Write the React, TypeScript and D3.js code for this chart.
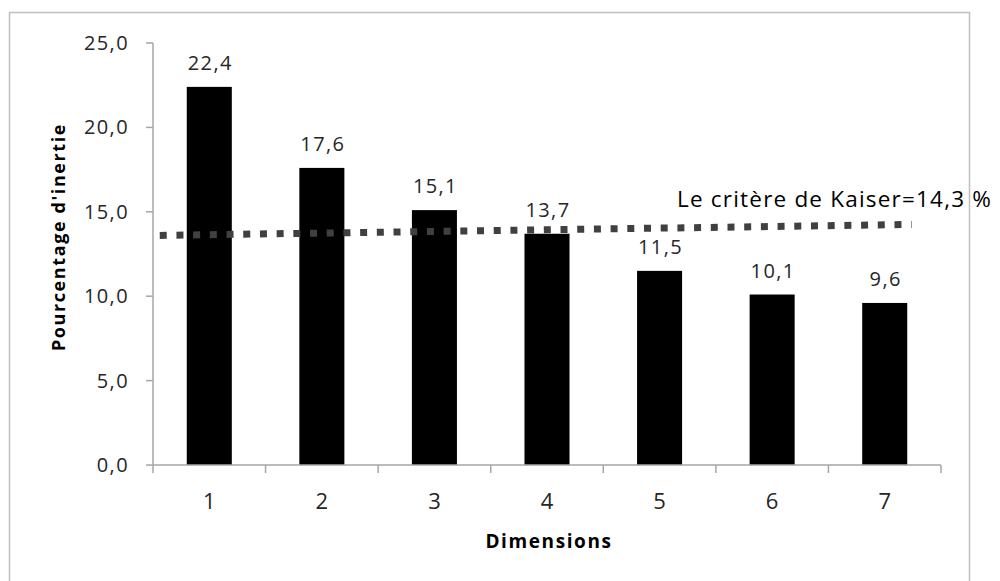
import React, { useEffect, useRef } from "react";
import * as d3 from "d3";

const dimensions = ["1", "2", "3", "4", "5", "6", "7"];
const inertia = [22.4, 17.6, 15.1, 13.7, 11.5, 10.1, 9.6];
const yTicks = [0, 5, 10, 15, 20, 25];
// dotted trend line drawn across the bars (position in dimension units, value in %)
const kaiserDims = [0.56, 7.24];
const kaiserValues = [13.6, 14.25];
const kaiserLabel = "Le critère de Kaiser=14,3 %";

const fmt = (v: number) => v.toFixed(1).replace(".", ",");

const App = () => {
  const svgRef = useRef<SVGSVGElement | null>(null);
  const w = 1000;
  const h = 581;
  const m = { top: 43, right: 59, bottom: 116, left: 153 };
  const font = "'Open Sans', sans-serif";

  useEffect(() => {
    d3.select(svgRef.current).selectAll("*").remove();
    const svg = d3.select(svgRef.current)
      .attr("width", w)
      .attr("height", h)
      .style("background", "#fff");

    // chart frame
    svg.append("rect")
      .attr("x", 9.5)
      .attr("y", 12.5)
      .attr("width", 960)
      .attr("height", 600)
      .attr("fill", "none")
      .attr("stroke", "#bfbfbf")
      .attr("stroke-width", 1.5);

    const xScale = d3.scaleBand()
      .domain(dimensions)
      .range([m.left, w - m.right])
      .paddingInner(0.6)
      .paddingOuter(0.3);
    const xLin = d3.scaleLinear()
      .domain([0.5, dimensions.length + 0.5])
      .range([m.left, w - m.right]);
    const yScale = d3.scaleLinear()
      .domain([0, 25])
      .range([h - m.bottom, m.top]);

    const axisColor = "#a6a6a6";

    // y axis
    svg.append("line")
      .attr("x1", m.left).attr("x2", m.left)
      .attr("y1", yScale(0)).attr("y2", yScale(25))
      .attr("stroke", axisColor).attr("stroke-width", 1.5);
    const yg = svg.append("g");
    yTicks.forEach((t) => {
      yg.append("line")
        .attr("x1", m.left - 7).attr("x2", m.left)
        .attr("y1", yScale(t)).attr("y2", yScale(t))
        .attr("stroke", axisColor).attr("stroke-width", 1.5);
      yg.append("text")
        .attr("x", m.left - 24)
        .attr("y", yScale(t) + 7)
        .attr("text-anchor", "end")
        .style("font-family", font)
        .style("font-size", "20px")
        .style("letter-spacing", "1.4px")
        .style("fill", "#262626")
        .text(fmt(t));
    });

    // bars
    svg.selectAll(".bar")
      .data(inertia)
      .enter()
      .append("rect")
      .attr("class", "bar")
      .attr("x", (d, i) => xScale(dimensions[i])!)
      .attr("y", (d) => yScale(d))
      .attr("width", xScale.bandwidth())
      .attr("height", (d) => yScale(0) - yScale(d))
      .attr("fill", "#000");

    // value labels
    svg.selectAll(".lbl")
      .data(inertia)
      .enter()
      .append("text")
      .attr("class", "lbl")
      .attr("x", (d, i) => xScale(dimensions[i])! + xScale.bandwidth() / 2 + 1)
      .attr("y", (d) => yScale(d) - 17)
      .attr("text-anchor", "middle")
      .style("font-family", font)
      .style("font-size", "20px")
      .style("letter-spacing", "1.4px")
      .style("fill", "#262626")
      .text((d) => fmt(d));

    // x axis
    svg.append("line")
      .attr("x1", m.left).attr("x2", w - m.right)
      .attr("y1", yScale(0)).attr("y2", yScale(0))
      .attr("stroke", axisColor).attr("stroke-width", 1.5);
    d3.range(dimensions.length + 1).forEach((i) => {
      const x = xLin(i + 0.5);
      svg.append("line")
        .attr("x1", x).attr("x2", x)
        .attr("y1", yScale(0)).attr("y2", yScale(0) + 8)
        .attr("stroke", axisColor).attr("stroke-width", 1.5);
    });
    dimensions.forEach((d) => {
      svg.append("text")
        .attr("x", xScale(d)! + xScale.bandwidth() / 2)
        .attr("y", yScale(0) + 44)
        .attr("text-anchor", "middle")
        .style("font-family", font)
        .style("font-size", "22px")
        .style("fill", "#262626")
        .text(d);
    });

    // kaiser line
    const line = d3.line<number>()
      .x((d, i) => xLin(kaiserDims[i]))
      .y((d) => yScale(d));
    svg.append("path")
      .datum(kaiserValues)
      .attr("d", line)
      .attr("fill", "none")
      .attr("stroke", "#404040")
      .attr("stroke-width", 7)
      .attr("stroke-dasharray", "7 9.7");

    svg.append("text")
      .attr("x", 677)
      .attr("y", 207)
      .style("font-family", font)
      .style("font-size", "22.5px")
      .style("letter-spacing", "1.2px")
      .style("fill", "#000")
      .text(kaiserLabel);

    // axis titles
    svg.append("text")
      .attr("x", 549)
      .attr("y", 548)
      .attr("text-anchor", "middle")
      .style("font-family", font)
      .style("font-size", "19px")
      .style("font-weight", "bold")
      .style("letter-spacing", "1.6px")
      .style("fill", "#000")
      .text("Dimensions");
    svg.append("text")
      .attr("transform", "translate(65, 237) rotate(-90)")
      .attr("text-anchor", "middle")
      .style("font-family", font)
      .style("font-size", "18px")
      .style("font-weight", "bold")
      .style("letter-spacing", "1.6px")
      .style("fill", "#000")
      .text("Pourcentage d'inertie");
  }, []);

  return (
    <svg ref={svgRef} style={{ position: "absolute", left: 0, top: 0, display: "block" }}></svg>
  );
};

export default App;
